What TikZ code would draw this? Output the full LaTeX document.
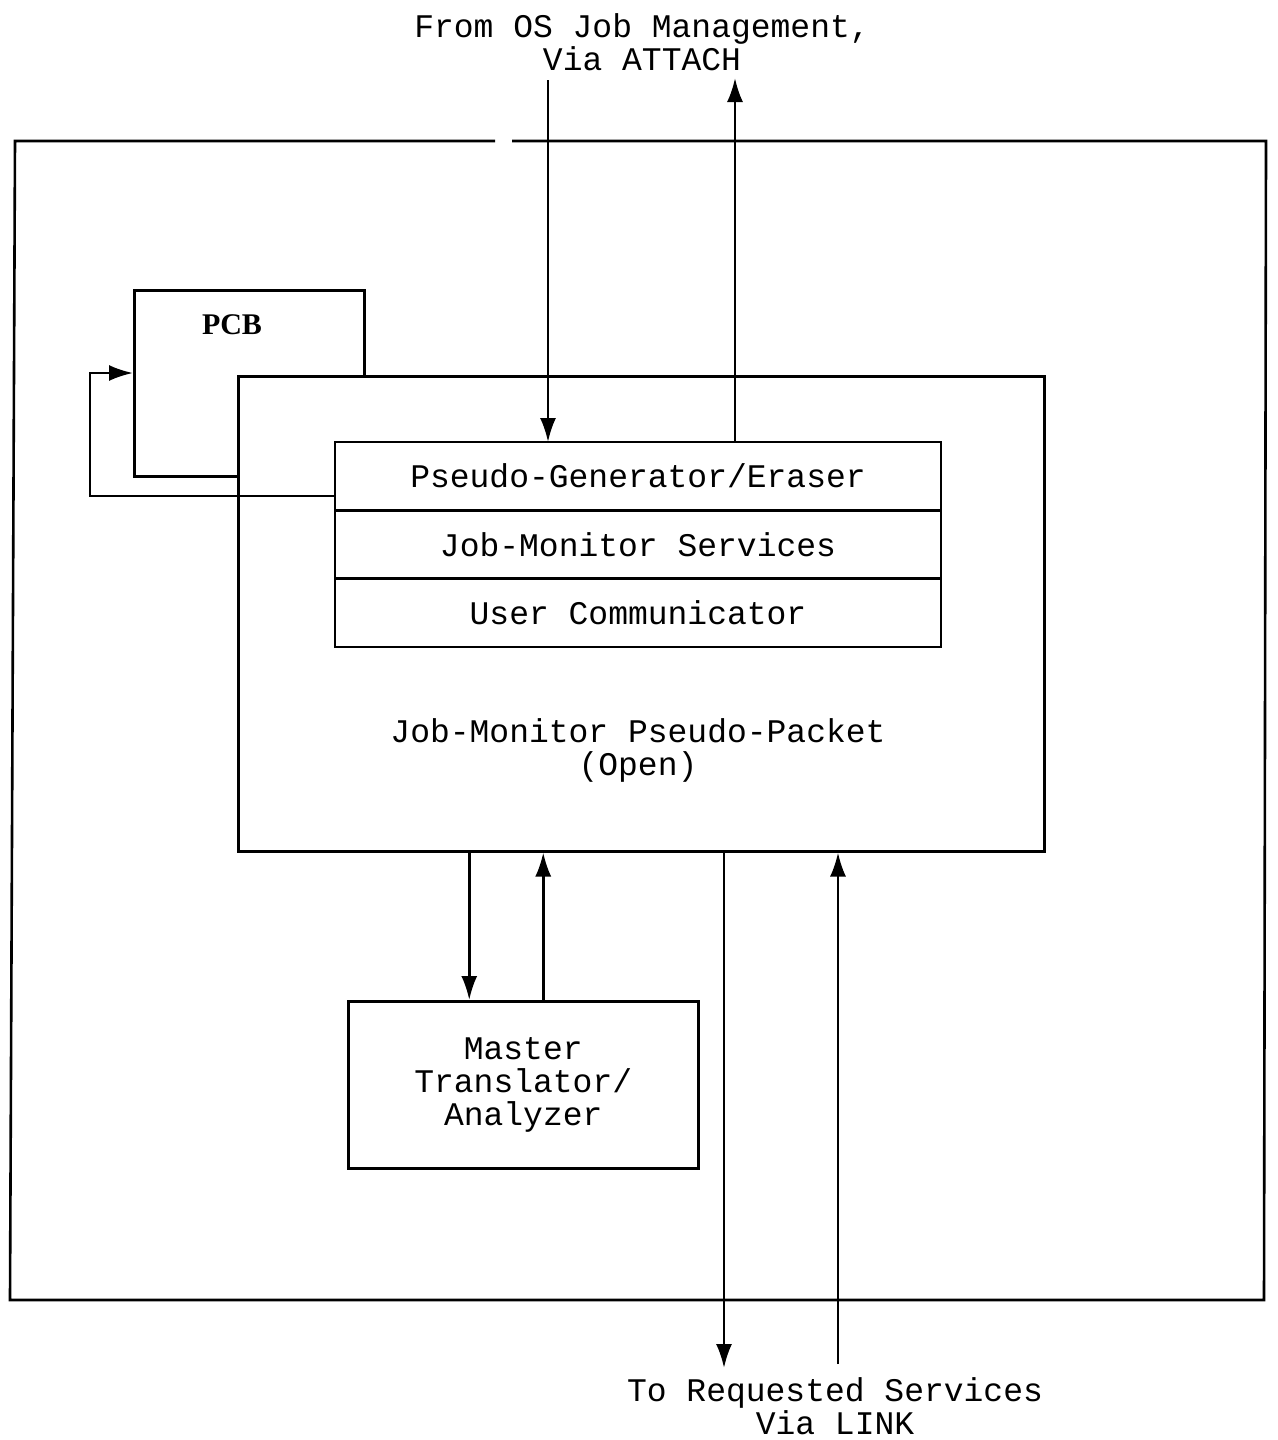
\documentclass[tikz,border=0pt]{standalone}
\usepackage{fontspec}
\setmainfont{Liberation Mono}
\newfontfamily\pcbfont{Liberation Serif}
\usetikzlibrary{arrows.meta, positioning}

\begin{document}
\begin{tikzpicture}[x=1pt, y=-1pt,
    box/.style={rectangle, draw=black, line width=2.5pt, fill=white, inner sep=0pt},
    rowbox/.style={box, outer sep=0pt, minimum width=606pt, minimum height=68.3pt, font=\fontsize{33}{33}\selectfont},
    txt/.style={font=\fontsize{33}{33}\selectfont, align=center, inner sep=0pt},
    flow/.style={-{Latex[length=24pt, width=16pt]}, line width=2.5pt},
    frame/.style={line width=2.6pt}
]
\useasboundingbox (0,0) rectangle (1277,1440);

% outer frame, open at the top
\draw[frame] (512,141) -- (1266,141) -- (1264,1300) -- (10,1300) -- (15,141) -- (495,141);

\node[box, minimum width=230pt, minimum height=186pt, anchor=north west] (pcb) at (133,289) {};
\node[txt, font=\pcbfont\bfseries\fontsize{30}{30}\selectfont] (pcblabel) at (232,325) {PCB};

\node[box, minimum width=806pt, minimum height=475pt, anchor=north west] (packet) at (237,375) {};
\node[txt] (packetlabel) at (638,750) {Job-Monitor Pseudo-Packet\\(Open)};

% stacked service rows
\node[rowbox, anchor=north west] (generator) at (335,442) {Pseudo-Generator/Eraser};
\node[rowbox] (services) [below=0pt of generator] {Job-Monitor Services};
\node[rowbox] (communicator) [below=0pt of services] {User Communicator};

\node[box, minimum width=350pt, minimum height=167pt, anchor=north west, txt] (master) at (347,1000) {Master\\Translator/\\Analyzer};

\node[txt] (attach) at (642,42) {From OS Job Management,\\Via ATTACH};
\node[txt] (link) at (835,1406) {To Requested Services\\Via LINK};

\coordinate (turn) at (90,373);
\coordinate (attachin) at (548,80);
\coordinate (attachout) at (735,78);
\coordinate (mastin) at ([xshift=-54pt]master.north);
\coordinate (mastout) at ([xshift=20pt]master.north);
\coordinate (linkout) at (724,1368);
\coordinate (linkin) at (838,1364);

\draw[flow] ([yshift=-20pt]generator.west) -| (turn) -- (pcb.west |- turn);
\draw[flow] (attachin) -- (attachin |- generator.north);
\draw[flow] (attachout |- generator.north) -- (attachout);
\draw[flow] (mastin |- packet.south) -- (mastin);
\draw[flow] (mastout) -- (mastout |- packet.south);
\draw[flow] (linkout |- packet.south) -- (linkout);
\draw[flow] (linkin) -- (linkin |- packet.south);

\end{tikzpicture}
\end{document}
